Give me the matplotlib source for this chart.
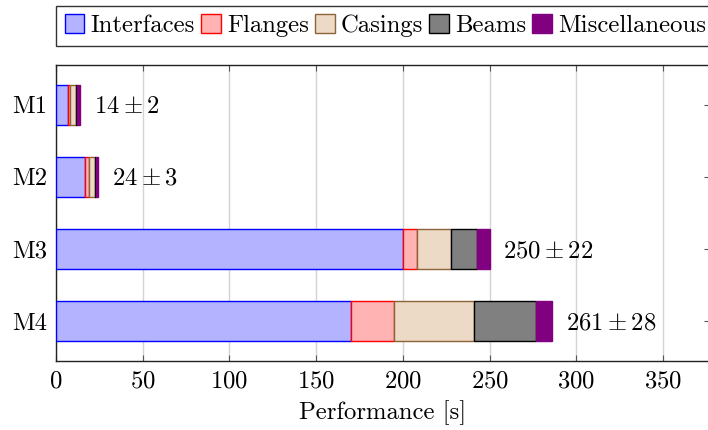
import matplotlib
matplotlib.use("Agg")
import matplotlib.pyplot as plt
import numpy as np

plt.rcParams['font.family'] = 'serif'
plt.rcParams['font.serif'] = ['cmr10']
plt.rcParams['mathtext.fontset'] = 'cm'
plt.rcParams['axes.formatter.use_mathtext'] = True

models = ["M1", "M2", "M3", "M4"]
interfaces = [6.7, 16.5, 200, 170]
flanges = [1.2, 2.3, 8, 25]
casings = [3.6, 3.6, 20, 46]
beams = [0.4, 0.9, 15, 36]
misc = [2.1, 0.7, 7, 9]
means = [14, 24, 250, 261]
stds = [2, 3, 22, 28]
xticks = [0, 50, 100, 150, 200, 250, 300, 350]

series = [
    ("Interfaces", interfaces, "#B3B3FF", "#0000FF"),
    ("Flanges", flanges, "#FFB3B3", "#FF0000"),
    ("Casings", casings, "#ECD9C6", "#8C6239"),
    ("Beams", beams, "#808080", "#000000"),
    ("Miscellaneous", misc, "#800080", "#800080"),
]

FS = 17.8
W, H = 708, 430
fig = plt.figure(figsize=(W / 100, H / 100), dpi=100)
x0, x1 = 56, 709.8
y0, y1 = 64.7, 361
ax = fig.add_axes([x0 / W, 1 - y1 / H, (x1 - x0) / W, (y1 - y0) / H])

ypos = np.arange(len(models))
left = np.zeros(len(models))
for name, vals, fc, ec in series:
    vals = np.array(vals, dtype=float)
    ax.barh(ypos, vals, left=left, height=0.56, color=fc, edgecolor=ec,
            linewidth=1.0, label=name, zorder=3)
    left += vals

for y, tot, m, s in zip(ypos, left, means, stds):
    ax.annotate(rf"${m} \pm {s}$", xy=(tot, y), xytext=(10, -1.5),
                textcoords="offset points", ha="left", va="center",
                fontsize=FS, zorder=4)

ax.set_xlim(0, (x1 - x0) / 1.7343)
ax.set_ylim(3.555, -0.555)
ax.set_xticks(xticks)
ax.set_yticks(ypos)
ax.set_yticklabels(models)
ax.tick_params(axis="both", direction="in", length=4.5, width=0.8,
               color="#555555", labelsize=FS, top=True, right=True)
ax.tick_params(axis="x", pad=7)
ax.tick_params(axis="y", pad=6)
ax.grid(axis="x", color="#D3D3D3", linewidth=1.0, zorder=0)
ax.set_axisbelow(True)
for sp in ax.spines.values():
    sp.set_color("#222222")
    sp.set_linewidth(1.0)

ax.set_xlabel("Performance [s]", fontsize=FS, labelpad=5)

leg = fig.legend(loc="upper left", bbox_to_anchor=(56.3 / W, 1 - 5.7 / H),
                 ncol=5, fontsize=FS, frameon=True, fancybox=False,
                 handlelength=0.8, handleheight=0.8, handletextpad=0.25,
                 columnspacing=0.24, borderpad=0.34, borderaxespad=0)
leg.get_frame().set_edgecolor("black")
leg.get_frame().set_linewidth(1.0)

fig.savefig("out.png", dpi=100)
